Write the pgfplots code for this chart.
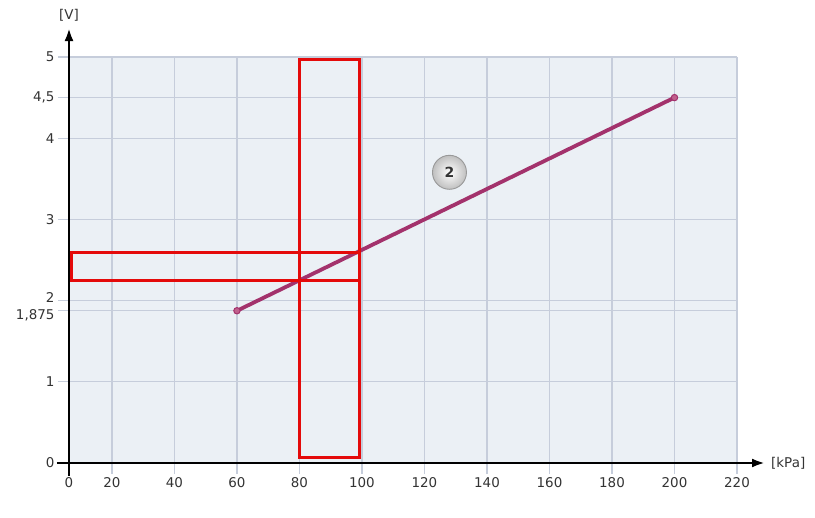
\documentclass[border=0pt]{standalone}
\usepackage{pgfplots}
\pgfplotsset{compat=1.18}
\usepackage{fontspec}
\setmainfont{DejaVu Sans}
\usetikzlibrary{arrows.meta}
\definecolor{bgc}{HTML}{EBF0F5}
\definecolor{gridc}{HTML}{C6CDDB}
\definecolor{linec}{HTML}{A3326C}
\definecolor{markc}{HTML}{C0608C}
\definecolor{textc}{HTML}{333333}
\definecolor{redc}{HTML}{E40A0A}
\begin{document}
\begin{tikzpicture}
\useasboundingbox (-69bp,-55bp) rectangle (746bp,463bp);
\begin{axis}[
  scale only axis,
  width=668bp, height=406bp,
  xmin=6.26, xmax=220, ymin=0, ymax=5,
  clip=false,
  axis x line=bottom, axis y line=left,
  x axis line style={line width=2.8bp, black, shorten <=-12bp, shorten >=-28bp, -{Latex[length=13bp,width=9bp]}},
  y axis line style={line width=2.8bp, black, shorten <=-13bp, shorten >=-29bp, -{Latex[length=13bp,width=9bp]}},
  axis background/.style={fill=bgc},
  xtick={6.26,20,40,60,80,100,120,140,160,180,200,220},
  xticklabels={0,20,40,60,80,100,120,140,160,180,200,220},
  ytick={0,1,1.875,2,3,4,4.5,5},
  yticklabels={0,1,{\smash{\raisebox{-9bp}{1,875}}},{\smash{\raisebox{-2.2bp}{2}}},3,4,{4,5},5},
  grid=major,
  major grid style={color=gridc, line width=1.3bp},
  tick style={color=gridc, line width=1.3bp},
  tick align=outside,
  major tick length=11bp,
  tick label style={font=\fontsize{13.5}{15}\selectfont, text=textc},
  /pgf/number format/assume math mode=true,
]
\addplot[linec, line width=3.8bp, mark=*, mark size=3.2bp, mark options={fill=markc, draw=linec, line width=1bp}]
  coordinates {(60,1.875) (200,4.5)};
\addplot[redc, line width=3.4bp, line join=miter]
  coordinates {(80,0.07) (99.3,0.07) (99.3,4.97) (80,4.97) (80,0.07)} -- cycle;
\addplot[redc, line width=3.4bp, line join=miter]
  coordinates {(7,2.25) (99.3,2.25) (99.3,2.59) (7,2.59) (7,2.25)} -- cycle;
\node[circle, minimum size=34bp, inner sep=0pt, draw=gray!80, line width=0.9bp,
      inner color=white, outer color=gray!50, text=textc,
      font=\fontsize{14}{16}\selectfont\bfseries] at (axis cs:128,3.58) {2};
\node[font=\fontsize{13.5}{15}\selectfont, text=textc] at (rel axis cs:0,1) [yshift=42bp] {[V]};
\node[font=\fontsize{13.5}{15}\selectfont, text=textc, anchor=west, inner sep=0pt] at (rel axis cs:1,0) [xshift=34bp] {[kPa]};
\end{axis}
\end{tikzpicture}
\end{document}
